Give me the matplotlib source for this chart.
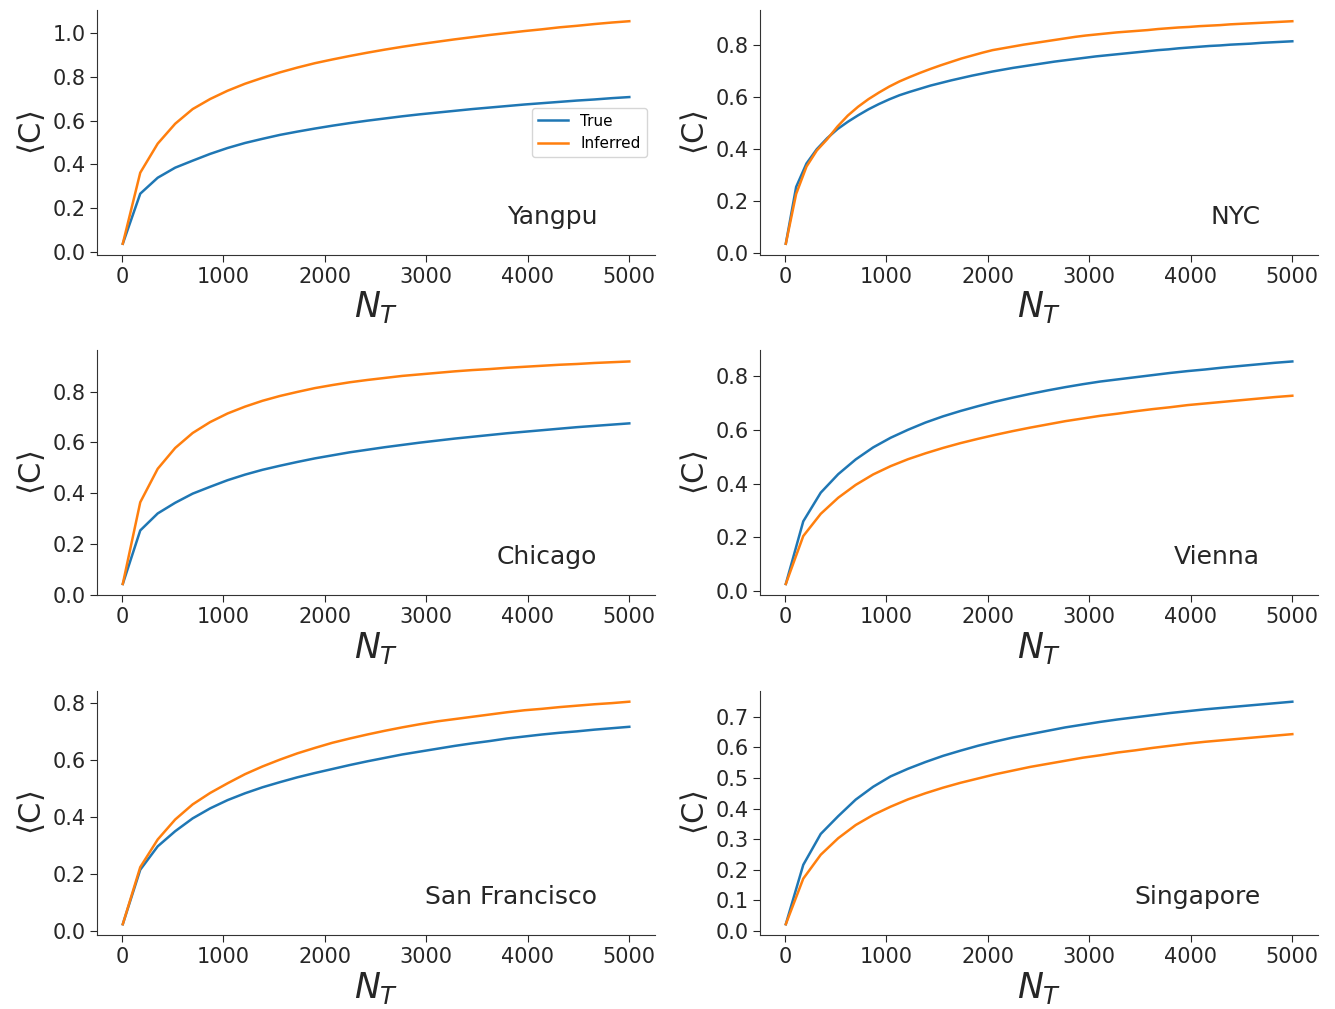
import numpy as np
import matplotlib
matplotlib.use("Agg")
import matplotlib.pyplot as plt

# Number of trips N_T at which the mean coverage <C> was evaluated
n_trips = np.linspace(10, 5000, 30)
n_trips_nyc = np.linspace(10, 5000, 50)

yangpu_true = [0.037, 0.266, 0.339, 0.385, 0.417, 0.448, 0.475, 0.498, 0.517, 0.535,
               0.550, 0.564, 0.577, 0.589, 0.600, 0.610, 0.620, 0.629, 0.637, 0.645,
               0.653, 0.660, 0.667, 0.674, 0.680, 0.686, 0.692, 0.697, 0.703, 0.708]
yangpu_inferred = [0.037, 0.362, 0.495, 0.586, 0.653, 0.699, 0.737, 0.769, 0.796, 0.821,
                   0.843, 0.863, 0.880, 0.896, 0.911, 0.925, 0.938, 0.950, 0.961, 0.972,
                   0.982, 0.992, 1.001, 1.010, 1.018, 1.027, 1.034, 1.042, 1.049, 1.055]

nyc_true = [0.037, 0.255, 0.345, 0.400, 0.442, 0.477, 0.505, 0.530, 0.553, 0.573,
            0.591, 0.607, 0.620, 0.632, 0.644, 0.654, 0.664, 0.673, 0.682, 0.690,
            0.698, 0.705, 0.712, 0.718, 0.724, 0.730, 0.736, 0.741, 0.746, 0.751,
            0.756, 0.760, 0.764, 0.768, 0.772, 0.776, 0.780, 0.783, 0.787, 0.790,
            0.793, 0.796, 0.798, 0.801, 0.803, 0.805, 0.808, 0.810, 0.812, 0.814]
nyc_inferred = [0.037, 0.228, 0.333, 0.395, 0.438, 0.487, 0.529, 0.563, 0.592, 0.617,
                0.640, 0.660, 0.677, 0.693, 0.708, 0.722, 0.735, 0.748, 0.759, 0.770,
                0.780, 0.787, 0.794, 0.801, 0.807, 0.813, 0.819, 0.825, 0.831, 0.836,
                0.840, 0.844, 0.848, 0.851, 0.854, 0.857, 0.861, 0.864, 0.867, 0.869,
                0.872, 0.874, 0.876, 0.879, 0.881, 0.883, 0.885, 0.887, 0.889, 0.891]

chicago_true = [0.042, 0.253, 0.320, 0.362, 0.398, 0.425, 0.451, 0.473, 0.492, 0.508,
                0.523, 0.537, 0.549, 0.561, 0.571, 0.581, 0.590, 0.599, 0.607, 0.615,
                0.622, 0.629, 0.636, 0.642, 0.648, 0.654, 0.660, 0.665, 0.670, 0.675]
chicago_inferred = [0.042, 0.364, 0.496, 0.578, 0.637, 0.680, 0.714, 0.741, 0.764, 0.783,
                    0.799, 0.814, 0.826, 0.837, 0.846, 0.854, 0.862, 0.868, 0.874, 0.880,
                    0.885, 0.889, 0.894, 0.898, 0.902, 0.906, 0.909, 0.913, 0.916, 0.919]

vienna_true = [0.025, 0.259, 0.366, 0.435, 0.490, 0.535, 0.571, 0.601, 0.628, 0.651,
               0.671, 0.689, 0.706, 0.721, 0.735, 0.748, 0.760, 0.771, 0.781, 0.789,
               0.797, 0.805, 0.813, 0.820, 0.826, 0.833, 0.839, 0.845, 0.851, 0.856]
vienna_inferred = [0.025, 0.204, 0.287, 0.347, 0.395, 0.434, 0.465, 0.491, 0.513, 0.533,
                   0.551, 0.567, 0.582, 0.596, 0.609, 0.621, 0.633, 0.643, 0.653, 0.661,
                   0.670, 0.678, 0.685, 0.693, 0.699, 0.705, 0.711, 0.717, 0.723, 0.728]

sf_true = [0.023, 0.214, 0.296, 0.349, 0.394, 0.429, 0.458, 0.482, 0.503, 0.521,
           0.538, 0.553, 0.567, 0.581, 0.594, 0.606, 0.618, 0.628, 0.638, 0.648,
           0.657, 0.665, 0.674, 0.681, 0.688, 0.694, 0.699, 0.705, 0.710, 0.715]
sf_inferred = [0.023, 0.223, 0.320, 0.390, 0.443, 0.483, 0.517, 0.549, 0.576, 0.600,
               0.622, 0.641, 0.659, 0.674, 0.688, 0.701, 0.713, 0.724, 0.734, 0.742,
               0.750, 0.758, 0.766, 0.773, 0.778, 0.784, 0.789, 0.794, 0.798, 0.803]

singapore_true = [0.022, 0.216, 0.317, 0.375, 0.429, 0.471, 0.505, 0.530, 0.552, 0.572,
                  0.589, 0.605, 0.619, 0.632, 0.643, 0.654, 0.665, 0.674, 0.683, 0.691,
                  0.698, 0.705, 0.712, 0.718, 0.724, 0.729, 0.734, 0.739, 0.744, 0.749]
singapore_inferred = [0.022, 0.171, 0.249, 0.303, 0.346, 0.379, 0.406, 0.430, 0.450, 0.468,
                      0.484, 0.498, 0.512, 0.524, 0.536, 0.546, 0.556, 0.566, 0.574, 0.583,
                      0.590, 0.598, 0.605, 0.612, 0.618, 0.623, 0.628, 0.633, 0.638, 0.643]

cities = ["Yangpu", "NYC", "Chicago", "Vienna", "San Francisco", "Singapore"]
x_grids = [n_trips, n_trips_nyc, n_trips, n_trips, n_trips, n_trips]
true_series = [yangpu_true, nyc_true, chicago_true, vienna_true, sf_true, singapore_true]
inferred_series = [yangpu_inferred, nyc_inferred, chicago_inferred, vienna_inferred,
                   sf_inferred, singapore_inferred]
y_ticks = [np.arange(0, 1.01, 0.2), np.arange(0, 0.81, 0.2), np.arange(0, 0.81, 0.2),
           np.arange(0, 0.81, 0.2), np.arange(0, 0.81, 0.2), np.arange(0, 0.71, 0.1)]
x_ticks = [0, 1000, 2000, 3000, 4000, 5000]

plt.rcParams["font.family"] = "DejaVu Sans"
plt.rcParams["mathtext.fontset"] = "dejavusans"

fig, axes = plt.subplots(3, 2, figsize=(13.35, 10.09), dpi=100)
fig.subplots_adjust(left=0.073, right=0.987, top=0.99, bottom=0.073,
                    wspace=0.19, hspace=0.39)

text_color = "#262626"
for ax, city, xs, yt, yi, yticks in zip(axes.flat, cities, x_grids, true_series,
                                        inferred_series, y_ticks):
    ax.plot(xs, yt, color="#1f77b4", lw=1.8, label="True")
    ax.plot(xs, yi, color="#ff7f0e", lw=1.8, label="Inferred")
    ax.set_xticks(x_ticks)
    ax.set_yticks(yticks)
    ax.set_yticklabels([f"{v:.1f}" for v in yticks])
    ax.tick_params(labelsize=15, colors=text_color, length=5)
    for side in ("top", "right"):
        ax.spines[side].set_visible(False)
    for side in ("left", "bottom"):
        ax.spines[side].set_color("#333333")
    ax.set_xlabel(r"$N_T$", fontsize=25, color=text_color, labelpad=2)
    ax.set_ylabel(r"$\langle \mathrm{C} \rangle$", fontsize=22, color=text_color, labelpad=4)
    ax.text(0.897, 0.127, city, transform=ax.transAxes, ha="right", va="baseline",
            fontsize=18, color=text_color)

axes[0, 0].legend(loc="center right", fontsize=11, framealpha=0.8)

fig.savefig("out.png", dpi=100)
